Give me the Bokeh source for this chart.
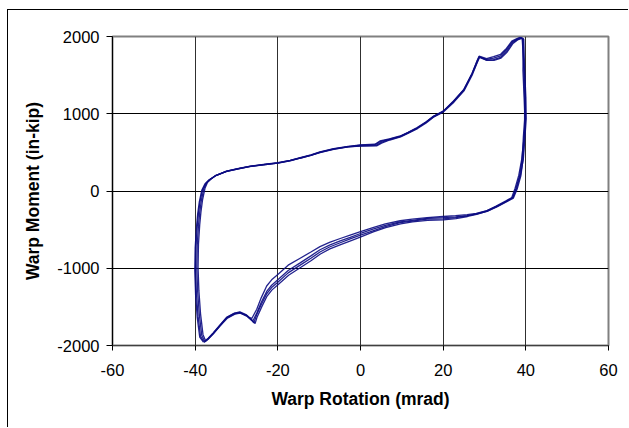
from bokeh.plotting import figure
from bokeh.models import Range1d, FixedTicker
from bokeh.embed import file_html
from bokeh.resources import INLINE

# ---- data (warp rotation in mrad, warp moment in in-kip), 4 cycles ----
rot_up_a = [-37.7, -38.4, -39.0, -39.4, -39.6, -39.5, -39.2, -38.9, -38.5, -37.9,
            -37.2, -36.4, -35.0, -32.4, -29.5, -26.7, -23.0, -20.0, -17.0, -14.6,
            -12.0, -9.8, -6.5, -3.0, 0.0, 3.6, 4.8, 7.0, 9.6, 11.5,
            13.7, 15.8, 17.7, 20.0, 22.5, 25.0, 27.0, 28.2, 28.7, 30.5,
            32.2, 33.9, 35.3, 36.7, 37.8, 38.7, 39.2]
mom_up_a = [-1945, -1870, -1600, -1300, -1000, -700, -450, -280, -120, 30,
            106, 148, 200, 256, 290, 320, 345, 364, 395, 429,
            465, 502, 545, 575, 592, 600, 640, 670, 708, 755,
            816, 890, 967, 1031, 1160, 1310, 1520, 1680, 1740, 1705,
            1720, 1750, 1830, 1930, 1965, 1985, 1975]
rot_dn_a = [39.5, 39.7, 39.7, 39.4, 39.1, 38.5, 37.6, 36.8, 35.4, 33.0,
            30.6, 28.0, 25.8, 23.0, 20.0, 16.1, 12.5, 9.6, 6.0, 3.0,
            0.0, -2.5, -4.9, -7.5, -9.8, -12.0, -14.6, -17.5, -20.0, -21.5,
            -22.7, -24.0, -25.1, -26.3, -26.8, -27.7, -29.2, -30.5, -32.4, -34.0,
            -35.6, -36.8, -37.7]
mom_dn_a = [1570, 1200, 924, 700, 407, 200, 30, -88, -131, -200,
            -255, -290, -305, -320, -330, -345, -365, -385, -425, -475,
            -525, -570, -615, -665, -720, -790, -870, -960, -1080, -1150,
            -1230, -1380, -1530, -1650, -1640, -1600, -1565, -1580, -1635, -1735,
            -1835, -1905, -1945]

rot_up_b = [-37.9, -38.7, -39.3, -39.7, -39.9, -39.8, -39.5, -39.2, -38.8, -38.2,
            -37.4, -36.6, -35.1, -32.4, -29.5, -26.7, -23.0, -20.0, -17.0, -14.6,
            -12.0, -9.8, -6.5, -3.0, 0.0, 3.8, 5.0, 7.0, 9.6, 11.5,
            13.7, 15.8, 17.7, 20.0, 22.5, 25.0, 27.0, 28.3, 28.8, 30.5,
            32.2, 33.9, 35.4, 36.8, 37.9, 38.9, 39.4]
mom_up_b = [-1950, -1880, -1620, -1320, -1010, -720, -460, -290, -130, 20,
            100, 145, 198, 254, 288, 318, 343, 362, 392, 426,
            462, 500, 542, 572, 585, 590, 630, 665, 705, 752,
            812, 886, 963, 1028, 1155, 1305, 1515, 1675, 1735, 1695,
            1700, 1730, 1815, 1920, 1960, 1980, 1970]
rot_dn_b = [39.3, 39.6, 39.8, 39.6, 39.3, 38.8, 37.9, 37.0, 35.5, 33.0,
            30.6, 28.0, 25.8, 23.0, 20.0, 16.1, 12.5, 9.6, 6.0, 3.0,
            0.0, -2.5, -4.9, -7.5, -9.8, -12.0, -14.6, -17.5, -20.0, -21.5,
            -22.7, -24.0, -25.1, -26.0, -26.6, -27.6, -29.2, -30.5, -32.4, -34.0,
            -35.6, -36.9, -37.8]
mom_dn_b = [1560, 1190, 920, 690, 400, 195, 25, -92, -136, -205,
            -265, -300, -318, -335, -345, -355, -380, -400, -445, -495,
            -550, -600, -645, -700, -760, -840, -930, -1030, -1150, -1220,
            -1300, -1440, -1580, -1680, -1655, -1610, -1570, -1585, -1640, -1740,
            -1840, -1910, -1950]

rot_up_c = [-37.5, -38.1, -38.7, -39.1, -39.3, -39.2, -38.9, -38.6, -38.2, -37.6,
            -37.0, -36.2, -34.9, -32.4, -29.5, -26.7, -23.0, -20.0, -17.0, -14.6,
            -12.0, -9.8, -6.5, -3.0, 0.0, 3.5, 4.7, 7.0, 9.6, 11.5,
            13.7, 15.8, 17.7, 20.0, 22.5, 25.0, 27.0, 28.2, 28.7, 30.5,
            32.2, 33.9, 35.3, 36.6, 37.7, 38.6, 39.1]
mom_up_c = [-1935, -1860, -1590, -1290, -990, -690, -440, -270, -110, 40,
            112, 152, 203, 258, 292, 322, 347, 366, 397, 432,
            468, 505, 548, 578, 598, 605, 648, 676, 712, 758,
            820, 894, 970, 1034, 1165, 1315, 1525, 1685, 1745, 1715,
            1740, 1770, 1845, 1940, 1970, 1988, 1980]
rot_dn_c = [39.6, 39.9, 39.9, 39.6, 39.0, 38.3, 37.4, 36.6, 35.2, 32.8,
            30.5, 28.0, 25.8, 23.0, 20.0, 16.1, 12.5, 9.6, 6.0, 3.0,
            0.0, -2.5, -4.9, -7.5, -9.8, -12.0, -14.6, -17.5, -20.0, -21.5,
            -22.7, -24.0, -25.1, -25.8, -26.5, -27.5, -29.2, -30.5, -32.4, -34.0,
            -35.6, -36.8, -37.6]
mom_dn_c = [1580, 1210, 930, 705, 410, 205, 35, -85, -128, -196,
            -258, -296, -322, -345, -360, -365, -390, -410, -460, -515,
            -570, -620, -670, -725, -790, -870, -960, -1060, -1180, -1250,
            -1330, -1470, -1600, -1705, -1665, -1615, -1575, -1590, -1645, -1745,
            -1845, -1915, -1950]

rot_up_d = [-38.0, -38.9, -39.5, -39.9, -40.1, -40.0, -39.7, -39.4, -39.0, -38.4,
            -37.6, -36.7, -35.2, -32.5, -29.6, -26.8, -23.0, -20.0, -17.0, -14.6,
            -12.0, -9.8, -6.5, -3.0, 0.0, 3.9, 5.1, 7.1, 9.7, 11.6,
            13.8, 15.9, 17.8, 20.1, 22.6, 25.1, 27.1, 28.3, 28.8, 30.6,
            32.3, 34.0, 35.5, 36.9, 38.0, 39.0, 39.5]
mom_up_d = [-1955, -1890, -1640, -1340, -1030, -740, -480, -300, -140, 10,
            95, 140, 195, 252, 286, 316, 341, 360, 390, 424,
            460, 497, 540, 570, 580, 585, 620, 660, 700, 748,
            808, 882, 960, 1025, 1150, 1300, 1510, 1670, 1730, 1690,
            1690, 1720, 1800, 1910, 1955, 1975, 1965]
rot_dn_d = [39.7, 40.0, 40.1, 39.8, 39.4, 38.7, 37.8, 36.9, 35.6, 33.2,
            30.7, 28.1, 25.9, 23.1, 20.1, 16.2, 12.6, 9.7, 6.1, 3.1,
            0.1, -2.4, -4.8, -7.4, -9.7, -11.9, -14.5, -17.4, -19.9, -21.4,
            -22.6, -23.9, -25.0, -25.5, -26.3, -27.4, -29.1, -30.4, -32.3, -34.0,
            -35.6, -36.9, -37.9]
mom_dn_d = [1590, 1220, 935, 710, 415, 210, 40, -80, -125, -192,
            -262, -302, -330, -358, -375, -380, -400, -425, -475, -530,
            -595, -645, -695, -750, -815, -900, -990, -1090, -1210, -1280,
            -1360, -1500, -1630, -1715, -1675, -1625, -1580, -1595, -1650, -1750,
            -1850, -1920, -1960]

x_ticks = [-60, -40, -20, 0, 20, 40, 60]
y_ticks = [-2000, -1000, 0, 1000, 2000]
x_title = "Warp Rotation (mrad)"
y_title = "Warp Moment (in-kip)"

cycles = [
    (rot_up_a + rot_dn_a, mom_up_a + mom_dn_a),
    (rot_up_b + rot_dn_b, mom_up_b + mom_dn_b),
    (rot_up_c + rot_dn_c, mom_up_c + mom_dn_c),
    (rot_up_d + rot_dn_d, mom_up_d + mom_dn_d),
]

FONT = "Liberation Sans"

p = figure(width=621, height=418, output_backend="svg", toolbar_location=None,
           x_range=Range1d(x_ticks[0], x_ticks[-1]),
           y_range=Range1d(y_ticks[0], y_ticks[-1]),
           min_border_left=104, min_border_right=21,
           min_border_top=26, min_border_bottom=83)
p.styles = {"border-left": "1px solid black", "border-top": "1px solid black",
            "margin-left": "7px", "margin-top": "9px"}

p.background_fill_color = "white"
p.border_fill_color = "white"
p.outline_line_color = "#808080"
p.outline_line_width = 2

for xs, ys in cycles:
    p.line(xs, ys, line_color="#0b0b82", line_width=1.3, line_alpha=0.9)

p.xaxis.ticker = FixedTicker(ticks=x_ticks)
p.yaxis.ticker = FixedTicker(ticks=y_ticks)
p.xgrid.ticker = FixedTicker(ticks=x_ticks)
p.ygrid.ticker = FixedTicker(ticks=y_ticks)
p.xgrid.grid_line_color = "#303030"
p.ygrid.grid_line_color = "black"
p.xgrid.grid_line_width = 1
p.ygrid.grid_line_width = 1

for ax in (p.xaxis[0], p.yaxis[0]):
    ax.axis_line_color = "black"
    ax.axis_line_width = 1
    ax.major_tick_line_color = "black"
    ax.major_tick_in = 0
    ax.minor_tick_line_color = None
    ax.major_label_text_font = FONT
    ax.major_label_text_font_size = "16.5px"
    ax.major_label_text_color = "black"
    ax.axis_label_text_font = FONT
    ax.axis_label_text_font_size = "17.5px"
    ax.axis_label_text_font_style = "bold"
    ax.axis_label_text_color = "black"

p.xaxis.major_label_overrides = {t: str(t) for t in x_ticks}
p.yaxis.major_label_overrides = {t: str(t) for t in y_ticks}
p.xaxis.axis_label = x_title
p.yaxis.axis_label = y_title
p.xaxis.axis_line_color = "#404040"
p.xaxis.major_tick_out = 5
p.xaxis.major_label_standoff = 13
p.xaxis.axis_label_standoff = 10
p.yaxis.major_tick_out = 6
p.yaxis.major_label_standoff = 7
p.yaxis.axis_label_standoff = 11

open("out.html", "w").write(file_html(p, INLINE))
